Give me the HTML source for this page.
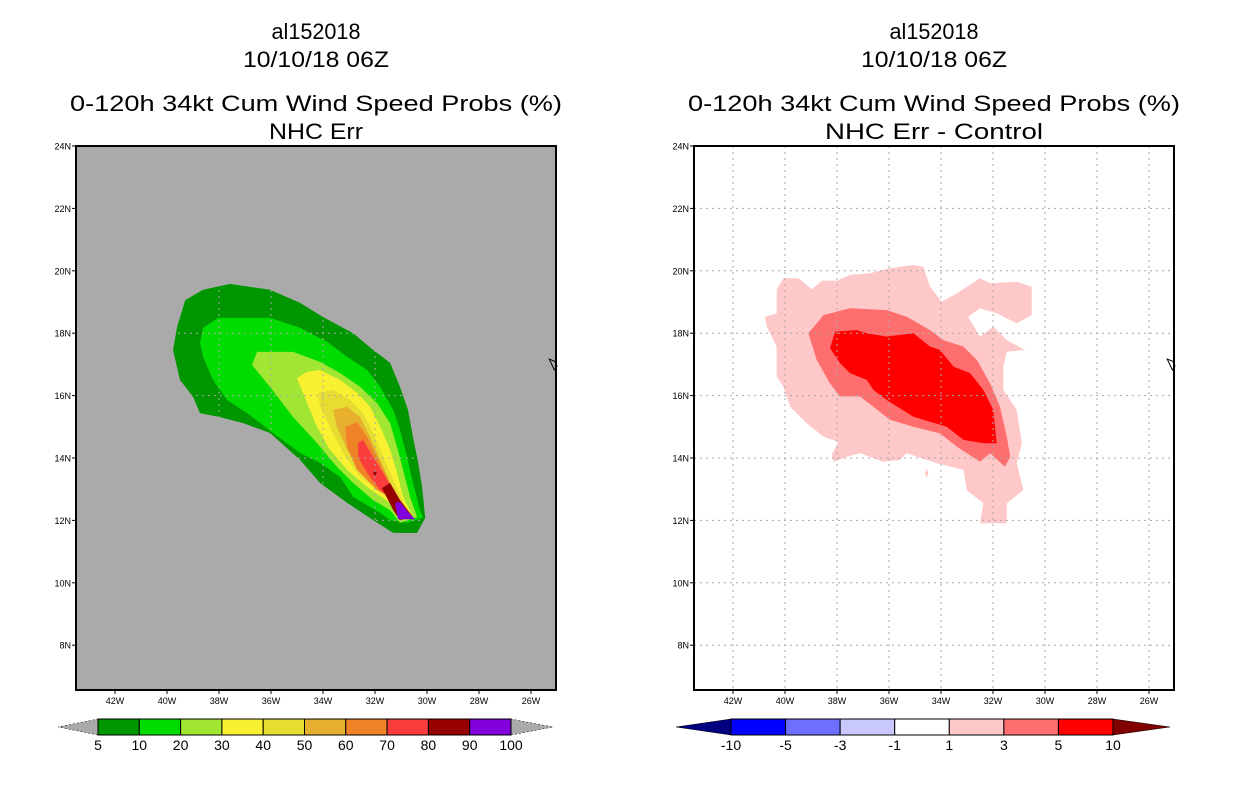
<!DOCTYPE html>
<html><head><meta charset="utf-8"><style>
html,body{margin:0;padding:0;background:#fff;}
svg{display:block;font-family:"Liberation Sans",sans-serif;}
</style></head><body>
<svg id="fig" width="1236" height="800" viewBox="0 0 1236 800" xmlns="http://www.w3.org/2000/svg"></svg>
<script>
// ---- data (lon in degrees West, lat in degrees North) ----
const lonTicks = [42,40,38,36,34,32,30,28,26];
const latTicks = [24,22,20,18,16,14,12,10,8];
const leftLevels = ["5","10","20","30","40","50","60","70","80","90","100"];
const leftColors = ["#009600","#00dc00","#a0e632","#faf032","#e6dc32","#e6af2d","#f08228","#fa3c3c","#960000","#8200dc"];
const rightLevels = ["-10","-5","-3","-1","1","3","5","10"];
const rightColors = ["#0000ff","#6e6eff","#c8c8ff","#ffffff","#ffc8c8","#ff6e6e","#ff0000"];
const p5 = [[37.57,19.58],[36.04,19.39],[34.88,18.97],[34.0,18.52],[32.84,18.0],[32.07,17.46],[31.42,17.05],[31.04,16.28],[30.73,15.54],[30.54,14.67],[30.34,13.84],[30.19,13.07],[30.07,12.08],[30.38,11.6],[31.3,11.6],[32.07,12.01],[33.07,12.56],[34.11,13.2],[34.88,13.94],[36.04,14.8],[37.07,15.12],[37.96,15.31],[38.73,15.44],[39.0,15.96],[39.5,16.5],[39.77,17.46],[39.61,18.2],[39.3,19.06],[38.61,19.39]];
const p10 = [[38.04,18.49],[36.04,18.49],[34.88,18.17],[33.84,17.72],[33.07,17.24],[32.3,16.82],[31.8,16.28],[31.3,15.54],[31.04,14.9],[30.77,14.03],[30.54,13.2],[30.27,12.33],[30.15,12.08],[30.77,11.92],[31.42,12.01],[31.8,12.24],[32.84,12.75],[33.34,13.39],[34.11,13.84],[34.88,14.16],[35.92,14.8],[36.92,15.44],[37.69,15.86],[38.23,16.5],[38.61,17.24],[38.73,17.69],[38.61,18.17]];
const p20 = [[36.54,17.4],[35.15,17.4],[34.11,17.08],[33.34,16.72],[32.57,16.28],[31.92,15.76],[31.42,15.12],[31.15,14.35],[30.92,13.62],[30.65,12.75],[30.38,12.11],[31.04,11.92],[31.42,12.33],[32.07,12.65],[32.84,13.2],[33.46,13.71],[34.23,14.48],[35.15,15.31],[36.04,16.28],[36.73,16.98]];
const p30 = [[35.0,16.56],[34.61,16.76],[34.11,16.82],[33.34,16.5],[32.69,16.09],[32.19,15.64],[31.8,15.0],[31.42,14.26],[31.15,13.52],[30.92,12.75],[30.54,12.11],[31.42,12.56],[32.3,13.07],[33.07,13.62],[33.73,14.26],[34.23,15.0],[34.61,15.76]];
const p40 = [[34.19,16.08],[33.61,16.18],[32.96,15.86],[32.46,15.44],[32.07,14.8],[31.69,14.03],[31.3,13.3],[30.77,12.33],[31.54,12.75],[32.57,13.39],[33.23,14.16],[33.73,14.99],[34.11,15.64]];
const p50 = [[33.61,15.54],[33.07,15.64],[32.57,15.31],[32.19,14.67],[31.8,13.94],[31.42,13.2],[30.92,12.43],[31.69,12.88],[32.57,13.52],[33.07,14.26],[33.46,14.99]];
const p60 = [[33.15,14.99],[32.69,15.15],[32.3,14.67],[31.92,14.03],[31.54,13.39],[31.04,12.56],[31.92,12.97],[32.69,13.62],[33.07,14.35]];
const p70 = [[32.65,14.48],[32.46,14.58],[32.07,14.03],[31.69,13.52],[31.3,12.97],[30.77,12.33],[31.8,12.97],[32.3,13.52],[32.65,14.03]];
const p80 = [[31.73,13.04],[31.42,13.2],[31.04,12.65],[30.54,12.11],[31.04,12.01],[31.3,12.33]];
const p80b = [[32.0,13.62],[31.93,13.52],[32.0,13.42],[32.07,13.52]];
const p90 = [[31.23,12.56],[31.04,12.59],[30.73,12.27],[30.46,12.04],[31.11,12.04]];
const d1 = [[40.77,18.52],[40.32,18.64],[40.32,19.39],[40.06,19.76],[39.48,19.76],[38.97,19.41],[38.58,19.68],[38.0,19.68],[37.5,19.87],[36.73,19.92],[35.96,20.08],[35.06,20.19],[34.68,20.13],[34.42,19.49],[33.97,19.01],[33.39,19.28],[32.5,19.76],[32.11,19.6],[31.09,19.65],[30.51,19.49],[30.51,18.58],[31.09,18.32],[31.86,18.64],[32.5,18.8],[32.95,18.53],[32.5,17.89],[31.99,18.21],[31.47,17.78],[30.77,17.46],[31.47,17.41],[31.6,16.93],[31.6,16.18],[31.09,15.54],[30.89,14.47],[31.09,13.83],[30.83,12.97],[31.47,12.55],[31.47,11.91],[32.5,11.91],[32.37,12.55],[33.01,12.97],[33.14,13.62],[34.16,13.83],[35.32,14.15],[35.58,13.94],[36.22,13.88],[37.11,14.15],[37.62,14.04],[38.14,13.88],[38.2,14.1],[37.95,14.52],[38.52,14.68],[39.16,15.11],[39.8,15.64],[40.06,16.29],[40.32,16.61],[40.32,17.57],[40.7,18.21]];
const d1b = [[34.55,13.65],[34.48,13.51],[34.55,13.37],[34.62,13.51]];
const d3 = [[39.1,18.0],[38.52,18.58],[37.5,18.8],[36.09,18.74],[35.32,18.53],[34.42,18.1],[33.91,17.78],[33.14,17.57],[32.62,17.14],[32.11,16.39],[31.73,15.64],[31.47,14.68],[31.34,14.04],[31.54,13.72],[32.11,14.15],[32.5,13.88],[33.39,14.36],[34.04,14.79],[35.06,15.0],[35.96,15.22],[36.6,15.64],[37.11,15.97],[37.88,15.97],[38.27,16.39],[38.78,17.14]];
const d5 = [[38.27,17.52],[38.07,18.05],[37.24,18.1],[36.85,18.0],[36.09,17.89],[35.06,18.0],[34.42,17.57],[34.04,17.46],[33.52,16.93],[32.88,16.72],[32.37,16.18],[31.99,15.54],[31.86,14.47],[32.37,14.47],[33.14,14.58],[33.78,15.0],[35.06,15.32],[36.09,15.86],[36.6,16.18],[36.85,16.5],[37.5,16.72],[37.88,17.04]];
const island = [[25.08,17.1],[25.3,17.17],[25.1,16.82],[25.0,16.95]];

const NS="http://www.w3.org/2000/svg";
const svg=document.getElementById('fig');
function mk(tag,attrs,parent){const e=document.createElementNS(NS,tag);for(const k in attrs)e.setAttribute(k,attrs[k]);(parent||svg).appendChild(e);return e;}
function xS(ox,w){return ox+115+(42-w)*26;}
function yS(lat){return 146+(24-lat)*31.2;}
function poly(ox,pts,fill,g,name,stroke){
  const d=pts.map(p=>xS(ox,p[0]).toFixed(1)+','+yS(p[1]).toFixed(1)).join(' ');
  const e=mk('polygon',{points:d,fill:fill,stroke:stroke||'none'},g);
  
  
  return e;
}
function text(x,y,s,size,anchor,parent,name,len){
  const a={x:x,y:y,'font-size':size,'text-anchor':anchor||'middle',fill:'#000'};
  if(len){a.textLength=len;a.lengthAdjust='spacingAndGlyphs';}
  const t=mk('text',a,parent);t.textContent=s;
  
  
  return t;
}
function panel(ox,bg,polys,titles,cbName,gridColor){
  const g=mk('g',{});
  
  
  const cx=ox+316;
  text(cx,39,'al152018',22,'middle',g,'storm-id-title',89);
  text(cx,67,'10/10/18 06Z',22,'middle',g,'date-title',146);
  text(cx,111,'0-120h 34kt Cum Wind Speed Probs (%)',22,'middle',g,'product-title',492);
  text(cx,139,titles,22,'middle',g,'panel-subtitle',titles.length>10?218:94);
  const bgR=mk('rect',{x:ox+76,y:146,width:480,height:544,fill:bg},g);
  
  
  polys.forEach(p=>poly(ox,p[0],p[1],g,p[2]));
  lonTicks.forEach(w=>{const x=xS(ox,w);const l=mk('line',{x1:x,y1:146,x2:x,y2:690,stroke:gridColor,'stroke-dasharray':'2,4','stroke-width':1},g);
    
    const tk=mk('line',{x1:x,y1:690,x2:x,y2:694,stroke:'#000'},g);
    text(x,704,w+'W',9,'middle',g,'lon-tick-label');});
  latTicks.forEach(la=>{const y=yS(la);
    if(la<24){const l=mk('line',{x1:ox+76,y1:y,x2:ox+556,y2:y,stroke:gridColor,'stroke-dasharray':'2,4','stroke-width':1},g);
    }
    const tk=mk('line',{x1:ox+72,y1:y,x2:ox+76,y2:y,stroke:'#000'},g);
    text(ox+71,y+3.5,la+'N',9,'end',g,'lat-tick-label');});
  poly(ox,island,'none',g,'cape-verde-island','#000');
  const fr=mk('rect',{x:ox+76,y:146,width:480,height:544,fill:'none',stroke:'#000','stroke-width':2},g);
  
  return g;
}
panel(0,'#aaaaaa',[[p5,leftColors[0],'contour-5'],[p10,leftColors[1],'contour-10'],[p20,leftColors[2],'contour-20'],[p30,leftColors[3],'contour-30'],[p40,leftColors[4],'contour-40'],[p50,leftColors[5],'contour-50'],[p60,leftColors[6],'contour-60'],[p70,leftColors[7],'contour-70'],[p80,leftColors[8],'contour-80'],[p80b,leftColors[8],'contour-80-spot'],[p90,leftColors[9],'contour-90']],'NHC Err','nhc-err','#aaaaaa');
panel(618,'#ffffff',[[d1,rightColors[4],'diff-1'],[d1b,rightColors[4],'diff-1-spot'],[d3,rightColors[5],'diff-3'],[d5,rightColors[6],'diff-5']],'NHC Err - Control','difference','#a8a8a8');

function colorbar(x0,x1,y0,y1,colors,labels,lowTri,highTri,tipL,tipR,name){
  const g=mk('g',{});
  
  
  const n=colors.length;const w=(x1-x0)/n;const ym=(y0+y1)/2;
  const a=mk('polygon',{points:`${x0},${y0} ${x0},${y1} ${tipL},${ym}`,fill:lowTri,stroke:'#000','stroke-width':0.5,'stroke-dasharray':lowTri==='#aaaaaa'?'2,2':''},g);
  
  const b=mk('polygon',{points:`${x1},${y0} ${x1},${y1} ${tipR},${ym}`,fill:highTri,stroke:'#000','stroke-width':0.5,'stroke-dasharray':highTri==='#aaaaaa'?'2,2':''},g);
  
  colors.forEach((c,i)=>{const r=mk('rect',{x:x0+i*w,y:y0,width:w,height:y1-y0,fill:c,stroke:'#000','stroke-width':1},g);
    });
  labels.forEach((s,i)=>text(x0+i*w,y1+15,s,14,'middle',g,'colorbar-label'));
}
colorbar(98,511,719,735,leftColors,leftLevels,'#aaaaaa','#aaaaaa',58,553,'probability-colorbar');
colorbar(731,1113,719,735,rightColors,rightLevels,'#000080','#800000',676,1170,'difference-colorbar');
</script>
</body></html>
